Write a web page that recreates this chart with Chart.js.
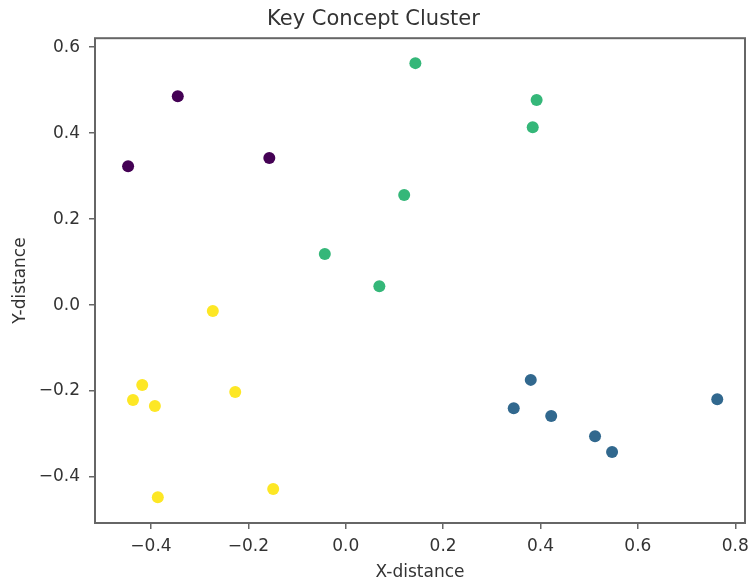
<!DOCTYPE html>
<html>
<head>
<meta charset="utf-8">
<script src="https://cdn.jsdelivr.net/npm/chart.js@4/dist/chart.umd.min.js"></script>
<style>
  html, body { margin: 0; padding: 0; background: #fff; }
  #wrap { width: 751px; height: 582px; }
</style>
</head>
<body>
<div id="wrap"><canvas id="c"></canvas></div>
<script>
// cluster points
const clusterNames = ['Cluster 0', 'Cluster 1', 'Cluster 2', 'Cluster 3'];
const clusterColors = ['#440154', '#31688e', '#35b779', '#fde725'];

const cluster0X = [-0.345, -0.447, -0.157];
const cluster0Y = [0.486, 0.323, 0.342];

const cluster1X = [0.380, 0.345, 0.422, 0.512, 0.547, 0.763];
const cluster1Y = [-0.174, -0.240, -0.258, -0.305, -0.342, -0.219];

const cluster2X = [0.143, 0.392, 0.384, 0.120, -0.043, 0.069];
const cluster2Y = [0.563, 0.477, 0.414, 0.256, 0.119, 0.044];

const cluster3X = [-0.273, -0.418, -0.437, -0.392, -0.227, -0.386, -0.149];
const cluster3Y = [-0.014, -0.186, -0.221, -0.235, -0.202, -0.447, -0.428];

const xTicks = [-0.4, -0.2, 0.0, 0.2, 0.4, 0.6, 0.8];
const yTicks = [-0.4, -0.2, 0.0, 0.2, 0.4, 0.6];

const FONT = "'DejaVu Sans', sans-serif";
const INK = '#333333';

function toPoints(xs, ys) {
    return xs.map((x, i) => ({ x, y: ys[i] }));
}

function fmt(v) {
    const s = Math.abs(v).toFixed(1);
    return v < -1e-9 ? '\u2212' + s : s;
}

const allX = [cluster0X, cluster1X, cluster2X, cluster3X];
const allY = [cluster0Y, cluster1Y, cluster2Y, cluster3Y];

const datasets = clusterNames.map((name, i) => ({
    label: name,
    data: toPoints(allX[i], allY[i]),
    backgroundColor: clusterColors[i],
    borderColor: clusterColors[i],
    pointRadius: 6,
    pointHoverRadius: 6,
    borderWidth: 0
}));

// matplotlib-style frame around the plot area
const frame = {
    id: 'frame',
    afterDraw(chart) {
        const { ctx, chartArea: a } = chart;
        ctx.save();
        ctx.strokeStyle = '#666';
        ctx.lineWidth = 2;
        ctx.strokeRect(a.left, a.top, a.right - a.left, a.bottom - a.top);
        ctx.restore();
    }
};

new Chart(document.getElementById('c'), {
    type: 'scatter',
    data: { datasets },
    plugins: [frame],
    options: {
        responsive: true,
        maintainAspectRatio: false,
        animation: false,
        layout: { padding: { left: 0, right: 4, top: 0, bottom: 0 } },
        plugins: {
            legend: { display: false },
            tooltip: { enabled: false },
            title: {
                display: true,
                text: 'Key Concept Cluster',
                color: INK,
                font: { family: FONT, size: 21, weight: 'normal', lineHeight: 1.2 },
                padding: { top: 7, bottom: 6 }
            }
        },
        scales: {
            x: {
                type: 'linear',
                min: -0.515,
                max: 0.82,
                afterFit: s => { s.height = 59; s.paddingLeft = 0; s.paddingRight = 0; },
                afterBuildTicks: s => { s.ticks = xTicks.map(v => ({ value: v })); },
                ticks: {
                    color: INK,
                    font: { family: FONT, size: 17 },
                    padding: 7,
                    callback: v => fmt(v)
                },
                grid: { drawOnChartArea: false, drawTicks: true, tickLength: 6, color: '#666', lineWidth: 1.5 },
                border: { display: false },
                title: {
                    display: true,
                    text: 'X-distance',
                    color: INK,
                    font: { family: FONT, size: 17 },
                    padding: { top: 0, bottom: -1 }
                }
            },
            y: {
                type: 'linear',
                min: -0.507,
                max: 0.621,
                afterFit: s => { s.width = 95; s.paddingTop = 0; s.paddingBottom = 0; },
                afterBuildTicks: s => { s.ticks = yTicks.map(v => ({ value: v })); },
                ticks: {
                    color: INK,
                    font: { family: FONT, size: 17 },
                    padding: 9,
                    callback: v => fmt(v)
                },
                grid: { drawOnChartArea: false, drawTicks: true, tickLength: 6, color: '#666', lineWidth: 1.5 },
                border: { display: false },
                title: {
                    display: true,
                    text: 'Y-distance',
                    color: INK,
                    font: { family: FONT, size: 17 },
                    padding: { top: 10, bottom: 0 }
                }
            }
        }
    }
});
</script>
</body>
</html>
